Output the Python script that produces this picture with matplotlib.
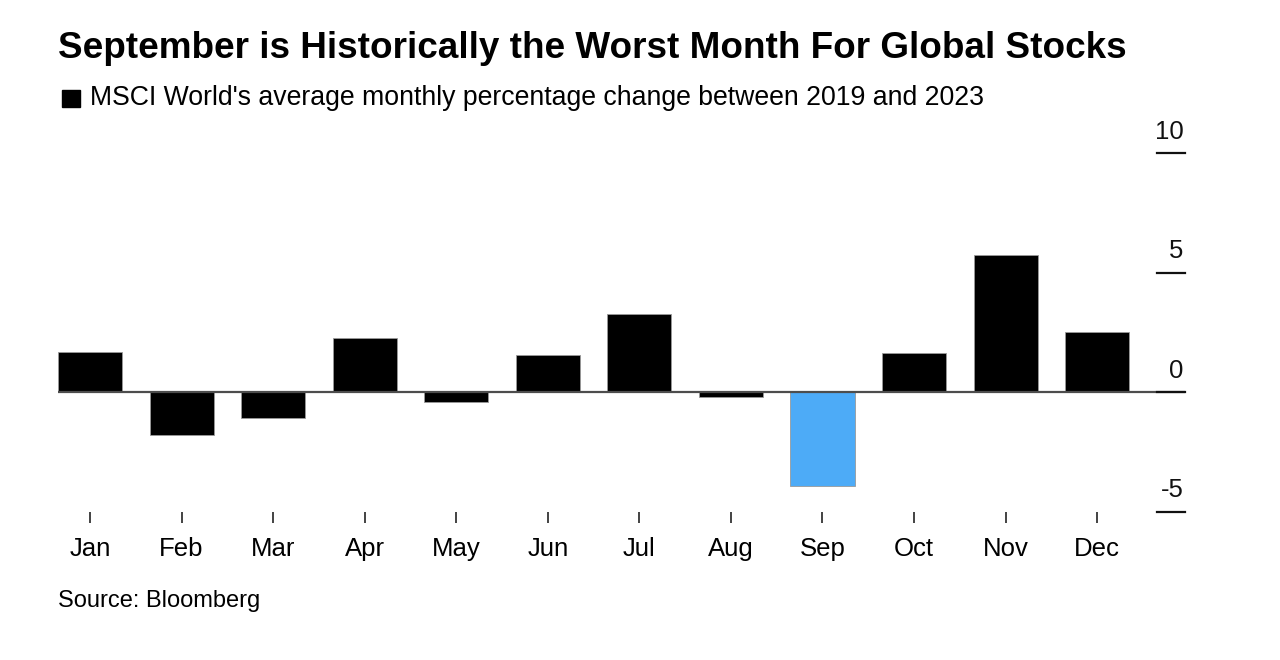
import matplotlib

matplotlib.use("Agg")
import matplotlib.pyplot as plt  # noqa: E402
import matplotlib.transforms as mtransforms  # noqa: E402
from matplotlib.patches import Rectangle  # noqa: E402

plt.rcParams["font.family"] = ["Liberation Sans", "DejaVu Sans"]

MONTHS = ["Jan", "Feb", "Mar", "Apr", "May", "Jun",
          "Jul", "Aug", "Sep", "Oct", "Nov", "Dec"]
AVG_CHANGE = [1.67, -1.81, -1.07, 2.26, -0.40, 1.56,
              3.29, -0.18, -3.93, 1.65, 5.75, 2.51]
HIGHLIGHT = "Sep"
Y_TICKS = [-5, 0, 5, 10]

TITLE = "September is Historically the Worst Month For Global Stocks"
SUBTITLE = "MSCI World's average monthly percentage change between 2019 and 2023"
SOURCE = "Source: Bloomberg"

BLACK = "#000000"
BLUE = "#4dabf7"

W, H = 1280, 660
fig = plt.figure(figsize=(W / 100, H / 100), dpi=100)
ax = fig.add_axes([0.0453, 0.2247, 0.8805, 0.543])

x = list(range(len(MONTHS)))
colors = [BLUE if m == HIGHLIGHT else BLACK for m in MONTHS]
ax.bar(x, AVG_CHANGE, width=0.70, color=colors, edgecolor="#9a9a9a",
       linewidth=0.6, zorder=2)
ax.axhline(0, color="#4d4d4d", lw=1.6, zorder=3)

ax.set_xlim(-0.35, 11.96)
ax.set_ylim(Y_TICKS[0], Y_TICKS[-1])

for s in ax.spines.values():
    s.set_visible(False)

# month ticks: short marks hanging under the plot, labels below
ax.set_xticks(x)
ax.set_xticklabels(MONTHS, fontsize=18.5)
ax.tick_params(axis="x", length=8, width=1.2, color="#222222", pad=10.5)

# y axis: short rules at the right edge with the value sitting above
ax.set_yticks([])
trans = mtransforms.blended_transform_factory(ax.transAxes, ax.transData)
for v in Y_TICKS:
    ax.plot([0.975, 1.0], [v, v], color="#111111", lw=1.6, transform=trans,
            clip_on=False, zorder=4)
    ax.annotate(str(v), xy=(0.9985, v), xycoords=trans, xytext=(0, 7),
                textcoords="offset points", ha="right", va="bottom",
                fontsize=18.5, color="#111111")

fig.text(58 / W, 1 - 48 / H, TITLE, fontsize=26.6, fontweight="bold",
         ha="left", va="center")
# legend key square + subtitle
fig.patches.append(Rectangle((62 / W, 1 - 107 / H), 18 / W, 17 / H,
                             transform=fig.transFigure, color=BLACK))
fig.text(90 / W, 1 - 98 / H, SUBTITLE, fontsize=19.2, ha="left", va="center")
fig.text(58 / W, 1 - 601 / H, SOURCE, fontsize=17, ha="left", va="center")

fig.savefig("out.png", dpi=100)
